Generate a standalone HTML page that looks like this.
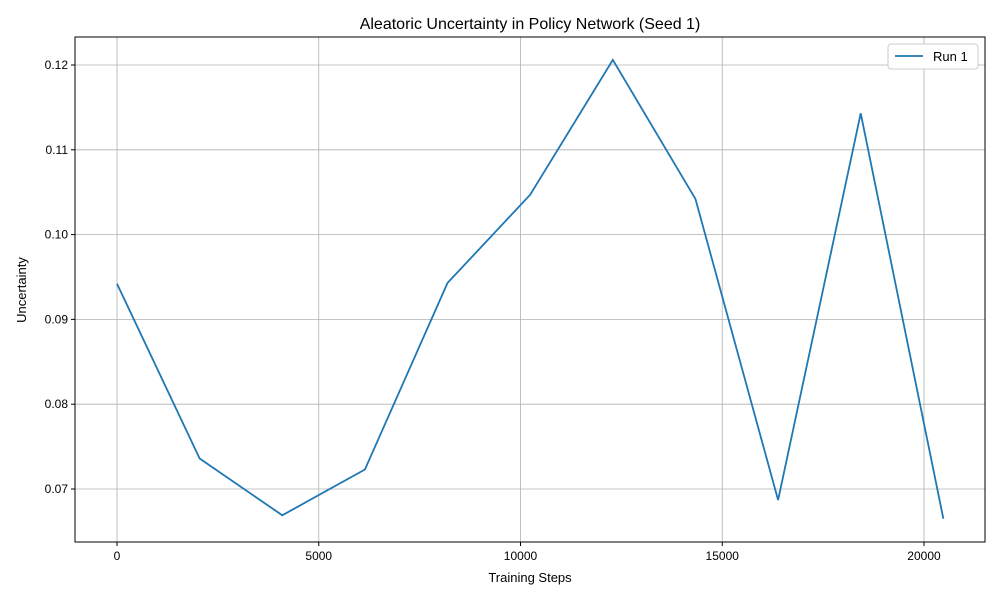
<!DOCTYPE html>
<html><head><meta charset="utf-8"><style>
body{margin:0;background:#fff;font-family:"Liberation Sans","DejaVu Sans",sans-serif;}
</style></head><body>
<svg id="chart" width="1000" height="600" xmlns="http://www.w3.org/2000/svg">
<rect width="1000" height="600" fill="#fff"/>
<text x="530" y="29" text-anchor="middle" font-size="16">Aleatoric Uncertainty in Policy Network (Seed 1)</text>
<g id="grid"></g>
<g id="ticks"></g>
<path id="line" fill="none" stroke="#1f77b4" stroke-width="1.8"/>
<rect x="75" y="37" width="910" height="505" fill="none" stroke="#000" stroke-width="1"/>
<text x="530" y="582" text-anchor="middle" font-size="13">Training Steps</text>
<text transform="translate(26,290) rotate(-90)" text-anchor="middle" font-size="13">Uncertainty</text>
<g>
<rect x="888" y="44" width="90" height="25" rx="3" fill="#fff" stroke="#ccc"/>
<line x1="895" y1="56" x2="923" y2="56" stroke="#1f77b4" stroke-width="1.8"/>
<text x="933" y="61" font-size="13">Run 1</text>
</g>
</svg>
<script>
const steps=[0,2048,4096,6144,8192,10240,12288,14336,16384,18432,20480];
const values=[0.0942,0.0736,0.0669,0.0723,0.0943,0.1047,0.1206,0.1042,0.0687,0.1143,0.0665];
const xTicks=[0,5000,10000,15000,20000];
const yTicks=[0.07,0.08,0.09,0.10,0.11,0.12];
const yLabels=["0.07","0.08","0.09","0.10","0.11","0.12"];
const L=75,R=985,T=37,B=542,xMin=-1041,xMax=21512,yMin=0.06375,yMax=0.1233;
const sx=v=>L+(v-xMin)/(xMax-xMin)*(R-L);
const sy=v=>B-(v-yMin)/(yMax-yMin)*(B-T);
const NS="http://www.w3.org/2000/svg";
const grid=document.getElementById('grid'),ticks=document.getElementById('ticks');
function mk(tag,attrs,parent){const e=document.createElementNS(NS,tag);for(const k in attrs)e.setAttribute(k,attrs[k]);parent.appendChild(e);return e;}
xTicks.forEach(t=>{const x=sx(t);
 const g=mk('line',{x1:x,x2:x,y1:T,y2:B,stroke:'#b0b0b0','stroke-width':0.8},grid);
 
 
 mk('line',{x1:x,x2:x,y1:B,y2:B+4,stroke:'#000'},ticks);
 const tx=mk('text',{x:x,y:B+18,'text-anchor':'middle','font-size':12},ticks);tx.textContent=t;
 
 
});
yTicks.forEach((t,i)=>{const y=sy(t);
 const g=mk('line',{x1:L,x2:R,y1:y,y2:y,stroke:'#b0b0b0','stroke-width':0.8},grid);
 
 
 mk('line',{x1:L-4,x2:L,y1:y,y2:y,stroke:'#000'},ticks);
 const tx=mk('text',{x:L-7,y:y+4,'text-anchor':'end','font-size':12},ticks);tx.textContent=yLabels[i];
 
 
});
document.getElementById('line').setAttribute('d',steps.map((s,i)=>(i?'L':'M')+sx(s)+','+sy(values[i])).join(''));
</script>
</body></html>
